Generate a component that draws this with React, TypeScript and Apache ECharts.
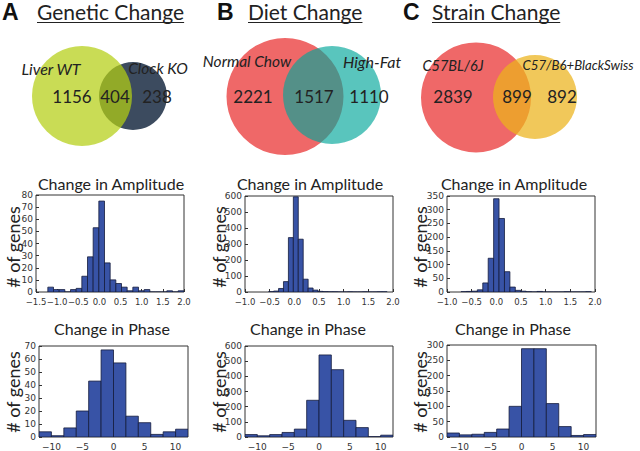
import React, { useEffect, useRef } from "react";
import * as echarts from "echarts";

// ---------- data ----------
const ampCountsA = [4, 2, 2, 0, 2, 3, 13, 29, 53, 75, 24, 10, 7, 4, 1, 4, 1, 2, 0, 0, 0, 1, 0, 1];
const ampStartA = -1.22;
const ampWidthA = 0.134;

const ampCountsB = [2, 6, 22, 65, 340, 595, 330, 80, 25, 12, 4, 2, 1, 1, 0, 0, 1, 0, 0, 1, 0, 0, 1, 1];
const ampStartB = -0.52;
const ampWidthB = 0.1;

const ampCountsC = [1, 2, 3, 8, 33, 123, 340, 268, 74, 18, 6, 3, 1, 0, 2, 0, 0, 0, 0, 1, 0, 0, 0, 1];
const ampStartC = -0.715;
const ampWidthC = 0.11;

const phaseEdges = [-12, -10, -8, -6, -4, -2, 0, 2, 4, 6, 8, 10, 12];
const phaseCountsA = [4, 1, 7, 20, 43, 67, 57, 16, 11, 2, 4, 6];
const phaseCountsB = [16, 8, 16, 30, 52, 242, 541, 444, 110, 62, 2, 12];
const phaseCountsC = [13, 7, 9, 15, 26, 100, 288, 288, 109, 34, 5, 8];
const phaseTicks = [-10, -5, 0, 5, 10];

const panelLetters = ["A", "B", "C"];
const panelTitles = ["Genetic Change", "Diet Change", "Strain Change"];
const vennLabels = [
  ["Liver WT", "Clock KO"],
  ["Normal Chow", "High-Fat"],
  ["C57BL/6J", "C57/B6+BlackSwiss"],
];
const vennCounts = [
  [1156, 404, 238],
  [2221, 1517, 1110],
  [2839, 899, 892],
];

const ampTitle = "Change in Amplitude";
const phaseTitle = "Change in Phase";
const yName = "# of genes";

// ---------- style ----------
const BAR = "#3853a6";
const EDGE = "#141c3c";
const FONT = "Lato";
const TICKFONT = "DejaVu Sans";

function ampBins(start: number, width: number, counts: number[]) {
  return counts.map((c, k) => [start + k * width, start + (k + 1) * width, c]);
}
function phaseBins(counts: number[]) {
  return counts.map((c, k) => [phaseEdges[k], phaseEdges[k + 1], c]);
}

const fmtSigned = (v: number, d: number) =>
  (v < 0 ? "\u2212" : "") + Math.abs(v).toFixed(d);

function measure(text: string, font: string) {
  const c = document.createElement("canvas");
  const ctx = c.getContext("2d")!;
  ctx.font = font;
  return ctx.measureText(text).width;
}

export default function App() {
  const ref = useRef<HTMLDivElement>(null);
  useEffect(() => {
    document.body.style.margin = "0";
    const chart = echarts.init(ref.current!, undefined, { renderer: "svg" });

    const grids = [
      { left: 36, top: 195, width: 148, height: 97 },
      { left: 245, top: 196, width: 148, height: 96 },
      { left: 447, top: 196, width: 148, height: 96 },
      { left: 39, top: 346, width: 149, height: 96 },
      { left: 245, top: 346, width: 148, height: 96 },
      { left: 447, top: 345, width: 149, height: 97 },
    ];

    const xCfg = [
      { min: -1.5, max: 2.0, interval: 0.5 },
      { min: -1.0, max: 2.0, interval: 0.5 },
      { min: -1.0, max: 2.0, interval: 0.5 },
      { min: -12, max: 12, interval: 1 },
      { min: -12, max: 12, interval: 1 },
      { min: -12, max: 12, interval: 1 },
    ];
    const yCfg = [
      { max: 80, interval: 10 },
      { max: 600, interval: 100 },
      { max: 350, interval: 50 },
      { max: 70, interval: 10 },
      { max: 600, interval: 100 },
      { max: 300, interval: 50 },
    ];
    const datas = [
      ampBins(ampStartA, ampWidthA, ampCountsA),
      ampBins(ampStartB, ampWidthB, ampCountsB),
      ampBins(ampStartC, ampWidthC, ampCountsC),
      phaseBins(phaseCountsA),
      phaseBins(phaseCountsB),
      phaseBins(phaseCountsC),
    ];

    const tickLabel = { fontFamily: TICKFONT, fontSize: 9, color: "#333" };

    const xAxis = xCfg.map((c, i) => {
      const isPhase = i >= 3;
      return {
        type: "value",
        gridIndex: i,
        position: "bottom",
        min: c.min,
        max: c.max,
        interval: c.interval,
        axisLine: { show: false, onZero: false },
        splitLine: { show: false },
        axisTick: isPhase
          ? { show: false }
          : { show: true, inside: true, length: 3, lineStyle: { color: "#333" } },
        axisLabel: {
          ...tickLabel,
          fontSize: isPhase ? 9 : 8.5,
          margin: 5,
          showMinLabel: true,
          showMaxLabel: true,
          hideOverlap: false,
          formatter: (v: number) =>
            isPhase
              ? phaseTicks.indexOf(Math.round(v)) >= 0
                ? fmtSigned(v, 0)
                : ""
              : fmtSigned(v, 1),
        },
      };
    });
    const yAxis = yCfg.map((c, i) => ({
      type: "value",
      gridIndex: i,
      position: "left",
      min: 0,
      max: c.max,
      interval: c.interval,
      axisLine: { show: false, onZero: false },
      splitLine: { show: false },
      axisTick: { show: true, inside: true, length: 3, lineStyle: { color: "#333" } },
      axisLabel: { ...tickLabel, margin: 3 },
    }));

    const renderBar = (_p: any, api: any) => {
      const p0 = api.coord([api.value(0), api.value(2)]);
      const p1 = api.coord([api.value(1), 0]);
      return {
        type: "rect",
        shape: { x: p0[0], y: p0[1], width: p1[0] - p0[0], height: p1[1] - p0[1] },
        style: { fill: BAR, stroke: EDGE, lineWidth: 0.8 },
      };
    };

    const series = datas.map((d, i) => ({
      type: "custom",
      xAxisIndex: i,
      yAxisIndex: i,
      data: d,
      encode: { x: [0, 1], y: 2 },
      renderItem: renderBar,
      clip: true,
    }));

    // ---------- graphic ----------
    const g: any[] = [];
    const text = (x: number, y: number, t: string, size: number, extra: any = {}) =>
      g.push({
        type: "text",
        x,
        y,
        z: 10,
        style: {
          text: t,
          fontSize: size,
          fontFamily: FONT,
          fill: "#222",
          align: "center",
          verticalAlign: "middle",
          ...extra,
        },
      });

    // Panel headings
    const letterX = [2, 217, 403];
    const headX = [37, 248, 432];
    const headFont = `21px ${FONT}`;
    panelLetters.forEach((L, i) => {
      text(letterX[i], 12, L, 23, {
        align: "left",
        fontWeight: "bold",
        fontFamily: "Liberation Sans",
        fill: "#111",
      });
      text(headX[i], 11, panelTitles[i], 21, { align: "left", fill: "#222" });
      const w = measure(panelTitles[i], headFont);
      g.push({
        type: "line",
        shape: { x1: headX[i], y1: 22.5, x2: headX[i] + w, y2: 22.5 },
        style: { stroke: "#222", lineWidth: 1.2 },
      });
    });

    // Venn circles
    const venns = [
      { big: { cx: 82, cy: 96, r: 50 }, small: { cx: 133, cy: 96, r: 34 }, bigFill: "rgba(180,206,20,0.72)", smallFill: "#3c4b5f", bigOnTop: true },
      { big: { cx: 285, cy: 96.5, r: 58.5 }, small: { cx: 332, cy: 95, r: 49 }, bigFill: "#ef6868", smallFill: "rgba(0,166,154,0.65)", bigOnTop: false },
      { big: { cx: 476, cy: 97.5, r: 55 }, small: { cx: 535, cy: 97, r: 42 }, bigFill: "#ef6868", smallFill: "rgba(235,179,26,0.72)", bigOnTop: false },
    ];
    venns.forEach((v) => {
      const bigEl = { type: "circle", shape: v.big, style: { fill: v.bigFill } };
      const smallEl = { type: "circle", shape: v.small, style: { fill: v.smallFill } };
      if (v.bigOnTop) g.push(smallEl, bigEl);
      else g.push(bigEl, smallEl);
    });

    const labelPos = [
      [[51, 68, 16], [158, 68, 15.5]],
      [[247, 61, 15.5], [372, 61, 16]],
      [[453, 65, 14.5], [578, 65, 13.2]],
    ];
    const numX = [
      [72, 115, 157],
      [253, 314, 369],
      [453, 517, 562],
    ];
    vennLabels.forEach((pair, i) => {
      pair.forEach((lab, j) => {
        const [x, y, s] = labelPos[i][j];
        text(x, y, lab, s, { fontStyle: "italic" });
      });
      vennCounts[i].forEach((n, j) => {
        text(numX[i][j], 96, String(n), 17);
      });
    });

    // Plot titles
    const ampTitleX = [111, 310, 514];
    const phaseTitleX = [112, 308, 513];
    ampTitleX.forEach((x) => text(x, 183, ampTitle, 16));
    phaseTitleX.forEach((x) => text(x, 328, phaseTitle, 16));

    // y labels
    const yLabX = [13, 219, 420];
    yLabX.forEach((x) => {
      [247, 392].forEach((y) =>
        g.push({
          type: "text", x, y, rotation: Math.PI / 2, z: 10,
          style: { text: yName, fontSize: 18, fontFamily: FONT, fill: "#222", align: "center", verticalAlign: "middle" },
        })
      );
    });

    chart.setOption({
      animation: false,
      backgroundColor: "#ffffff",
      grid: grids.map((gr) => ({ ...gr, show: true, borderColor: "#333", borderWidth: 1, backgroundColor: "transparent" })),
      xAxis,
      yAxis,
      series,
      graphic: { elements: g },
    });
    return () => chart.dispose();
  }, []);
  return <div ref={ref} style={{ width: 640, height: 451 }} />;
}
